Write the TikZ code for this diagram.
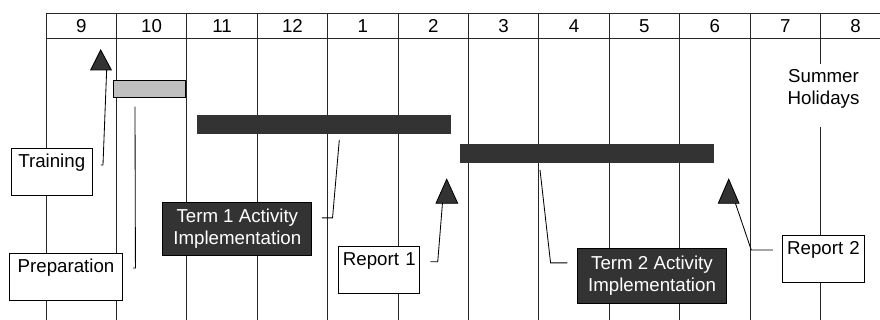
\documentclass[tikz,border=0pt]{standalone}
\usepackage{fontspec}
\setmainfont{Liberation Sans}
\usetikzlibrary{calc}
\definecolor{bardark}{HTML}{333333}
\definecolor{barlight}{HTML}{C0C0C0}

\begin{document}
\begin{tikzpicture}[x=0.025cm, y=-0.025cm,
    font=\fontsize{13.3}{15.6}\selectfont,
    grid/.style={draw=black!85, line width=0.6pt},
    task/.style={inner sep=0pt, anchor=north west},
    leader/.style={draw=black, line width=0.6pt},
    milestone/.style={fill=bardark, draw=black, line width=0.6pt},
    note/.style={draw=black, fill=white, line width=0.6pt, anchor=north, align=center, inner xsep=0pt, inner ysep=3pt, text height=10.5pt, text depth=17pt},
    phase/.style={draw=black, fill=bardark, text=white, align=center, inner sep=0pt, line width=0.6pt}
    ]
        \useasboundingbox (0,0) rectangle (880,320);
        % month header and columns
        \draw[grid] (46,13) -- (880,13);
        \draw[grid] (46,38) -- (880,38);
        \foreach \m [count=\i from 0] in {9,10,11,12,1,2,3,4,5,6,7,8}
            \node (month\i) at ({81.2+70.4*\i},26) {\m};
        \foreach \i in {0,...,10}
            \draw[grid] ({46+70.4*\i},13) -- ({46+70.4*\i},320);
        \node[align=center] (summer) at (823.5,89) {Summer\\Holidays};
        \draw[grid] (820.4,13) -- (820.4,64) (820.4,126.7) -- (820.4,320);

        % activity bars
        \node[task, draw=black, line width=0.8pt, fill=barlight, minimum width=1.8cm, minimum height=0.43cm] (prepbar) at (112.5,80) {};
        \node[task, fill=bardark, minimum width=6.35cm, minimum height=0.475cm] (term1bar) at (197,115) {};
        \node[task, fill=bardark, minimum width=6.36cm, minimum height=0.485cm] (term2bar) at (459.5,143.3) {};

        % callout boxes
        \node[note, text width=2.04cm] (training) at (51.75,148.3) {Training};
        \node[note, text width=2.835cm] (preparation) at (66,253.3) {Preparation};
        \node[note, text width=2.03cm] (report1) at (379.3,246.3) {Report 1};
        \node[note, text width=2.04cm] (report2) at (823.5,235) {Report 2};
        \node[phase, minimum width=3.72cm, minimum height=1.335cm] (term1) at (237.3,229) {Term 1 Activity\\Implementation};
        \node[phase, minimum width=3.735cm, minimum height=1.39cm] (term2) at (652,276) {Term 2 Activity\\Implementation};

        \coordinate (ms1) at (100.7,50);
        \coordinate (ms2) at (446.7,179.3);
        \coordinate (ms3) at (728.7,179.3);

        % leader lines
        \draw[leader] ($(training.north east)+(8,16.7)$) -- ++(2,0) -- ($(ms1)+(6,19)$);
        \draw[leader] ($(preparation.north east)+(10,14.7)$) -- ++(2.3,0) -- ($(prepbar.south west)+(22.5,8.4)$);
        \draw[leader] ($(term1.north east)+(9.7,16)$) -- ++(10.7,0) -- ($(term1bar.south west)+(142.3,5.3)$);
        \draw[leader] ($(report1.north east)+(10,15.4)$) -- ++(7.4,0) -- ($(ms2)+(-4,21)$);
        \draw[leader] ($(term2.north west)+(-9.6,15.1)$) -- ++(-16.7,0) -- ($(term2bar.south west)+(80.5,6.6)$);
        \draw[leader] ($(report2.north west)+(-9.4,15)$) -- ++(-21.6,0) -- ($(ms3)+(5.6,20.7)$);

        % milestones
        \filldraw[milestone] (ms1) -- ++(-10,20) -- ++(20.7,0) -- cycle;
        \filldraw[milestone] (ms2) -- ++(-10.7,24) -- ++(21.7,0) -- cycle;
        \filldraw[milestone] (ms3) -- ++(-10.4,24) -- ++(20.7,0) -- cycle;
\end{tikzpicture}
\end{document}
